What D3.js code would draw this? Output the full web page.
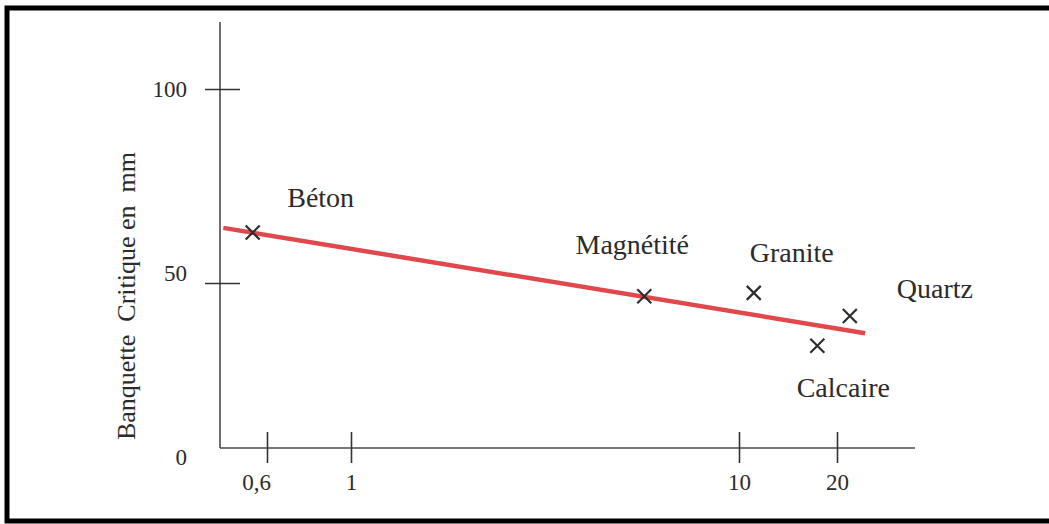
<!DOCTYPE html>
<html>
<head>
<meta charset="utf-8">
<script src="https://cdn.jsdelivr.net/npm/d3@7"></script>
<style>
  body { margin: 0; background: #fff; }
  svg { display: block; }
  .lbl { font-family: "Liberation Serif", "Times New Roman", serif; fill: #2b2b2b; }
</style>
</head>
<body>
<div id="chart"></div>
<script>
// data
var materials = ["Béton", "Magnétité", "Granite", "Quartz", "Calcaire"];
var xValues = [0.55, 5.7, 11.1, 21.9, 17.4];
var yValues = [63, 46, 47, 40, 31];

// fitted trend line (end points)
var lineX = [0.46, 24.4];
var lineY = [64.2, 34.8];

var xTicks = [0.6, 1, 10, 20];
var xTickLabels = ["0,6", "1", "10", "20"];
var yTicks = [0, 50, 100];
var yTitle = "Banquette  Critique en  mm";

var W = 1049, H = 524;

var svg = d3.select('#chart').append('svg')
  .attr('width', W)
  .attr('height', H);

// frame
svg.append('rect')
  .attr('x', 7).attr('y', 8)
  .attr('width', 1100).attr('height', 513)
  .attr('fill', 'none')
  .attr('stroke', '#000')
  .attr('stroke-width', 5);

// hand drawn axes are not evenly spaced, so polylinear scales
var x = d3.scaleLog()
  .domain(xTicks)
  .range([267, 351, 739, 837]);

var y = d3.scaleLinear()
  .domain(yTicks)
  .range([448, 283, 89]);

var x0 = 220, y0 = y(0);

// axis lines
svg.append('line')
  .attr('x1', x0).attr('x2', x0)
  .attr('y1', 22).attr('y2', y0)
  .attr('stroke', '#4a4a4a').attr('stroke-width', 1.6);
svg.append('line')
  .attr('x1', x0).attr('x2', 915)
  .attr('y1', y0).attr('y2', y0)
  .attr('stroke', '#4a4a4a').attr('stroke-width', 1.6);

// x ticks crossing the axis
var xAxis = svg.append('g')
  .attr('transform', 'translate(0,' + (y0 - 16) + ')')
  .call(d3.axisBottom(x)
    .tickValues(xTicks)
    .tickSizeInner(31)
    .tickSizeOuter(0)
    .tickPadding(11)
    .tickFormat(function (d, i) { return xTickLabels[i]; }));
xAxis.select('.domain').remove();
xAxis.selectAll('.tick line').attr('stroke', '#333').attr('stroke-width', 1.6);
xAxis.selectAll('.tick text')
  .attr('class', 'lbl')
  .style('font-size', '23px')
  .attr('dx', function (d, i) { return i === 0 ? -11 : 0; });

// y ticks crossing the axis (no labels here)
var yTickG = svg.append('g')
  .attr('transform', 'translate(' + (x0 - 15) + ',0)')
  .call(d3.axisRight(y)
    .tickValues([50, 100])
    .tickSizeInner(35)
    .tickSizeOuter(0)
    .tickFormat(''));
yTickG.select('.domain').remove();
yTickG.selectAll('.tick line').attr('stroke', '#333').attr('stroke-width', 1.6);

// y labels
var yLab = svg.append('g')
  .attr('transform', 'translate(187,0)')
  .call(d3.axisLeft(y)
    .tickValues(yTicks)
    .tickSize(0)
    .tickPadding(0));
yLab.select('.domain').remove();
yLab.selectAll('.tick text')
  .attr('class', 'lbl')
  .style('font-size', '23px')
  .attr('dy', function (d) { return d === 0 ? '0.7em' : d === 50 ? '-0.1em' : '0.32em'; });

// y title
svg.append('text')
  .attr('class', 'lbl')
  .attr('transform', 'translate(135,296) rotate(-90)')
  .attr('text-anchor', 'middle')
  .style('font-size', '26px')
  .style('white-space', 'pre')
  .text(yTitle);

// trend line
var line = d3.line()
  .x(function (d) { return x(d[0]); })
  .y(function (d) { return y(d[1]); });

svg.append('path')
  .datum(d3.zip(lineX, lineY))
  .attr('d', line)
  .attr('fill', 'none')
  .attr('stroke', '#e0484c')
  .attr('stroke-width', 4.5)
  .attr('stroke-linecap', 'butt');

// points
var pts = d3.zip(materials, xValues, yValues);

svg.selectAll('path.pt')
  .data(pts)
  .enter().append('path')
  .attr('class', 'pt')
  .attr('transform', function (d) { return 'translate(' + x(d[1]) + ',' + y(d[2]) + ')'; })
  .attr('d', 'M-7,-7L7,7M-7,7L7,-7')
  .attr('stroke', '#2e2e2e')
  .attr('stroke-width', 2.2)
  .attr('fill', 'none');

// label placement around each mark
var labelShift = {
  "Béton": [68, -35],
  "Magnétité": [-12, -52],
  "Granite": [38, -41],
  "Quartz": [85, -28],
  "Calcaire": [26, 41]
};

svg.selectAll('text.mat')
  .data(pts)
  .enter().append('text')
  .attr('class', 'lbl mat')
  .attr('x', function (d) { return x(d[1]) + labelShift[d[0]][0]; })
  .attr('y', function (d) { return y(d[2]) + labelShift[d[0]][1]; })
  .attr('dy', '0.35em')
  .attr('text-anchor', 'middle')
  .style('font-size', '28px')
  .text(function (d) { return d[0]; });
</script>
</body>
</html>
